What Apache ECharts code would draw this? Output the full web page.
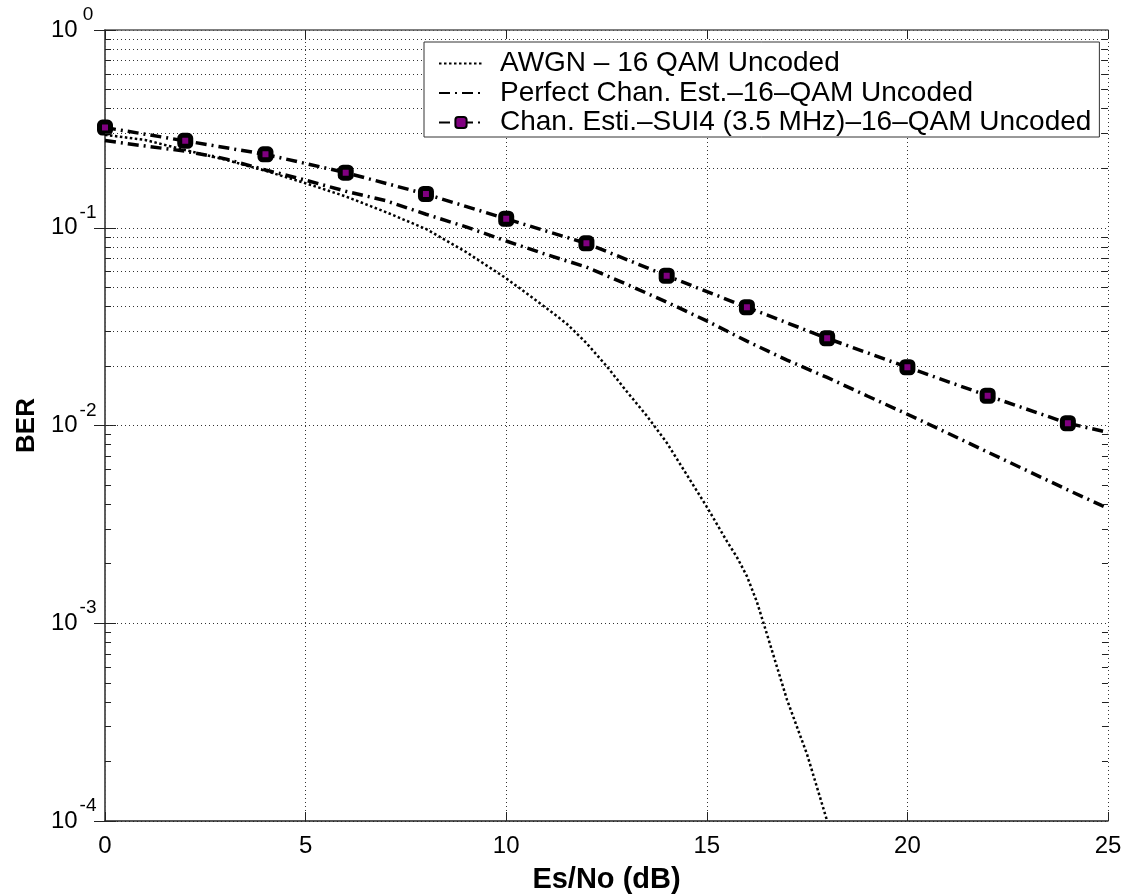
<!DOCTYPE html>
<html>
<head>
<meta charset="utf-8">
<script src="https://cdn.jsdelivr.net/npm/echarts@6/dist/echarts.min.js"></script>
<style>
  html, body { margin: 0; background: #fff; }
  #chart { width: 1126px; height: 894px; }
</style>
</head>
<body>
<div id="chart"></div>
<script>
// data
const awgnSnr = [0, 1, 2, 3, 4, 5, 6, 7, 8, 9, 10, 11, 11.5, 12, 12.5, 13, 13.5, 14, 14.5, 15,
  15.5, 15.75, 16, 16.25, 16.5, 17, 17.5, 18]
const awgnBer = [0.295, 0.278, 0.247, 0.221, 0.194, 0.168, 0.144, 0.120, 0.0986, 0.0754, 0.0555,
  0.0393, 0.0328, 0.0261, 0.0200, 0.0149, 0.01122, 0.00819, 0.00564, 0.00388,
  0.0026, 0.00216, 0.00173, 0.00128, 0.00088, 0.00041, 0.000217, 0.0001]

const perfectSnr = [0, 1, 2, 3, 4, 5, 6, 7, 8, 9, 10, 11, 12, 13, 14, 15, 16, 17, 18, 19, 20, 21, 22, 23, 24, 25]
const perfectBer = [0.276, 0.259, 0.244, 0.223, 0.196, 0.174, 0.153, 0.137, 0.117, 0.101, 0.0857,
  0.0732, 0.0633, 0.0518, 0.0421, 0.0338, 0.0267, 0.0214, 0.0175, 0.0141, 0.0114, 0.00916,
  0.00734, 0.00589, 0.00472, 0.00381]

const estSnr = [0, 2, 4, 6, 8, 10, 12, 14, 16, 18, 20, 22, 24, 25]
const estBer = [0.321, 0.275, 0.235, 0.190, 0.148, 0.111, 0.0834, 0.0572, 0.0396, 0.0276,
  0.0197, 0.01415, 0.01026, 0.00924]

const seriesNames = [
  'AWGN – 16 QAM Uncoded',
  'Perfect Chan. Est.–16–QAM Uncoded',
  'Chan. Esti.–SUI4 (3.5 MHz)–16–QAM Uncoded'
]

// log grid: minor lines at 2..9 of every decade
const minorMantissa = [2, 3, 4, 5, 6, 7, 8, 9]
const decades = [-4, -3, -2, -1]

const FONT = "'Liberation Sans', Helvetica, Arial, sans-serif"
const gridDot = { type: [1, 3], color: '#333', width: 1 }

const pairs = (xs, ys) => xs.map((x, i) => [x, ys[i]])

const minorValues = []
decades.forEach(d => minorMantissa.forEach(m => minorValues.push(m * Math.pow(10, d))))

// minor grid lines and small inside ticks on both y sides
const minorLines = minorValues.map(v => ({ yAxis: v }))
const minorTicks = []
minorValues.forEach(v => {
  minorTicks.push([{ coord: [0, v] }, { coord: [0.15, v] }])
  minorTicks.push([{ coord: [24.85, v] }, { coord: [25, v] }])
})

const estData = pairs(estSnr, estBer).map((p, i) =>
  estSnr[i] % 2 === 0 ? p : { value: p, symbol: 'none' })

// "10" with a raised exponent: the exponent sits on a thin line above the 10
const powLabel = v => {
  const e = Math.round(Math.log10(v))
  return '{sp| }{s|' + e + '}\n{b|10}{sp2| }'
}

const chart = echarts.init(document.getElementById('chart'))

const option = {
  animation: false,
  backgroundColor: '#fff',
  grid: { left: 105, right: 18, top: 30, bottom: 73, containLabel: false, outerBoundsMode: 'none' },
  legend: {
    left: 424,
    top: 42,
    orient: 'vertical',
    itemWidth: 44,
    itemHeight: 14,
    itemGap: 0.5,
    padding: [7, 8, 0, 14],
    backgroundColor: '#fff',
    borderColor: '#333',
    borderWidth: 1,
    textStyle: { fontSize: 28, lineHeight: 29, color: '#000', fontFamily: FONT, padding: [0, 0, 0, 12] },
    data: [
      { name: seriesNames[0], itemStyle: { opacity: 0 } },
      { name: seriesNames[1], itemStyle: { opacity: 0 } },
      { name: seriesNames[2] }
    ]
  },
  xAxis: [
    {
      type: 'value',
      min: 0,
      max: 25,
      interval: 5,
      name: 'Es/No (dB)',
      nameLocation: 'middle',
      nameGap: 44,
      nameTextStyle: { fontSize: 29, fontWeight: 'bold', color: '#000', fontFamily: FONT },
      axisLine: { lineStyle: { color: '#222', width: 1.5 } },
      axisTick: { inside: true, length: 9, lineStyle: { color: '#222' } },
      axisLabel: { fontSize: 24, color: '#000', fontFamily: FONT, margin: 13 },
      splitLine: { show: true, lineStyle: gridDot }
    },
    {
      type: 'value',
      position: 'top',
      min: 0,
      max: 25,
      interval: 5,
      axisLine: { show: true, lineStyle: { color: '#555', width: 1.5 } },
      axisTick: { show: true, inside: true, length: 9, lineStyle: { color: '#222' } },
      axisLabel: { show: false },
      splitLine: { show: false }
    }
  ],
  yAxis: [
    {
      type: 'log',
      logBase: 10,
      min: 1e-4,
      max: 1,
      name: 'BER',
      nameLocation: 'middle',
      nameGap: 55,
      nameTextStyle: { fontSize: 26, fontWeight: 'bold', color: '#000', fontFamily: FONT },
      axisLine: { show: true, lineStyle: { color: '#555', width: 1.5 } },
      axisTick: { show: true, inside: true, length: 11, lineStyle: { color: '#222' } },
      axisLabel: {
        margin: 8,
        fontFamily: FONT,
        color: '#000',
        padding: [0, 0, 6, 0],
        formatter: powLabel,
        rich: {
          sp: { width: 28, fontSize: 19, lineHeight: 6 },
          s: { width: 18, align: 'left', fontSize: 19, lineHeight: 6, fontFamily: FONT, color: '#000' },
          b: { width: 28, align: 'left', fontSize: 24, lineHeight: 24, fontFamily: FONT, color: '#000' },
          sp2: { width: 18, fontSize: 19, lineHeight: 24 }
        }
      },
      splitLine: { show: true, lineStyle: gridDot }
    },
    {
      type: 'log',
      logBase: 10,
      min: 1e-4,
      max: 1,
      position: 'right',
      axisLine: { show: true, lineStyle: { color: '#555', width: 1.5 } },
      axisTick: { show: true, inside: true, length: 11, lineStyle: { color: '#222' } },
      axisLabel: { show: false },
      splitLine: { show: false }
    }
  ],
  series: [
    {
      name: seriesNames[0],
      type: 'line',
      data: pairs(awgnSnr, awgnBer),
      symbol: 'none',
      lineStyle: { color: '#000', width: 2.5, type: [2.5, 2.5] },
      itemStyle: { color: '#000' },
      z: 3,
      markLine: {
        silent: true,
        symbol: ['none', 'none'],
        label: { show: false },
        lineStyle: gridDot,
        animation: false,
        z: 1,
        data: minorLines
      }
    },
    {
      name: seriesNames[1],
      type: 'line',
      data: pairs(perfectSnr, perfectBer),
      symbol: 'none',
      lineStyle: { color: '#000', width: 3.5, type: [11, 5, 2, 5] },
      itemStyle: { color: '#000' },
      z: 3,
      markLine: {
        silent: true,
        symbol: ['none', 'none'],
        label: { show: false },
        lineStyle: { type: 'solid', color: '#222', width: 1 },
        animation: false,
        data: minorTicks
      }
    },
    {
      name: seriesNames[2],
      type: 'line',
      data: estData,
      symbol: 'roundRect',
      symbolSize: 11,
      lineStyle: { color: '#000', width: 3.5, type: [11, 5, 2, 5] },
      itemStyle: { color: '#800080', borderColor: '#000', borderWidth: 5 },
      z: 4
    }
  ]
}

chart.setOption(option)
</script>
</body>
</html>
